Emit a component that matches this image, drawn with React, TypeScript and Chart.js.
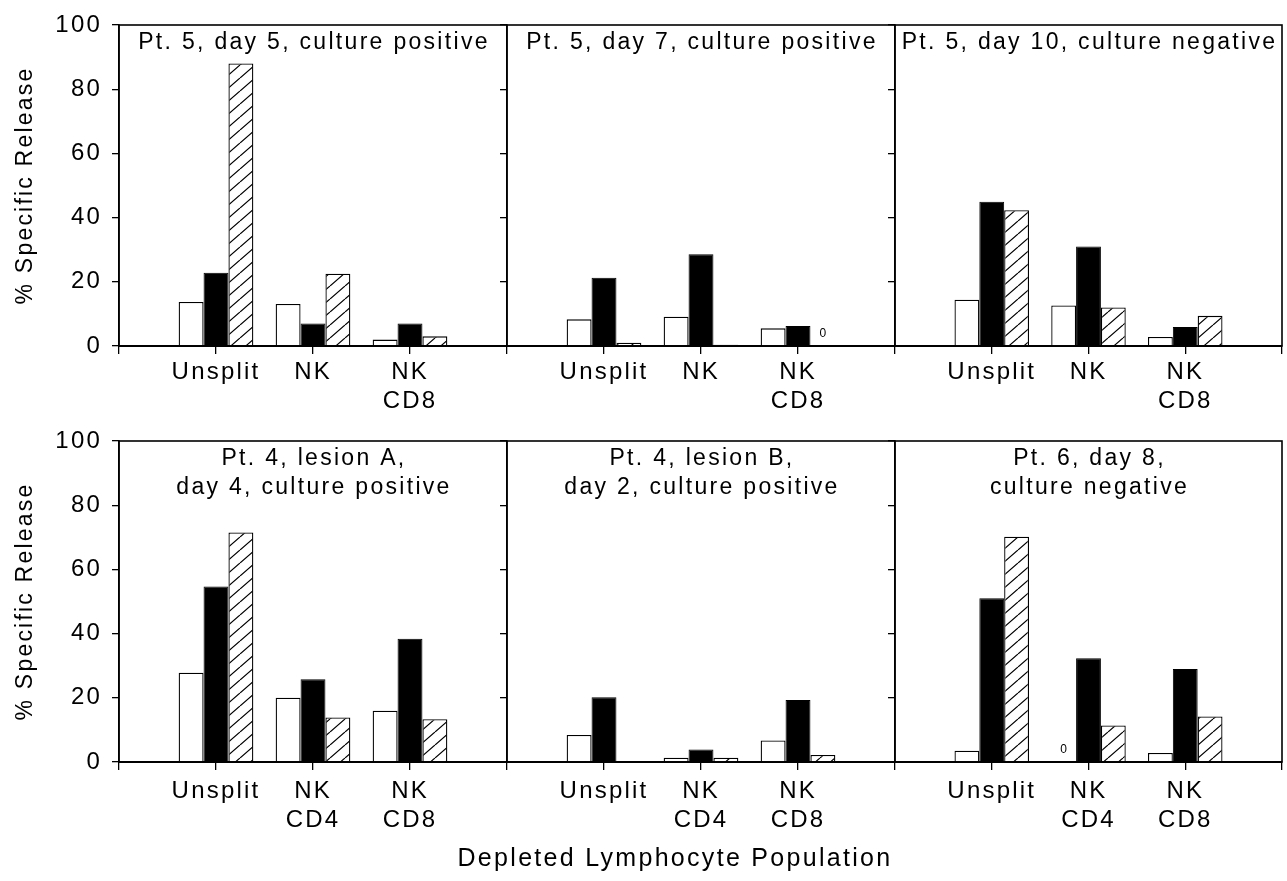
import React, { useEffect, useRef } from 'react';
import { Chart, registerables } from 'chart.js';

Chart.register(...registerables);

const FONT = '"Liberation Sans", Arial, Helvetica, sans-serif';
const SPACING = '2.2px';

// ---- categories / tick labels ----
const topCategories: (string | string[])[] = ['', 'Unsplit', 'NK', ['NK', 'CD8'], ''];
const bottomCategories: (string | string[])[] = ['', 'Unsplit', ['NK', 'CD4'], ['NK', 'CD8'], ''];
const yTickStep = 20;
const yMin = 0;
const yMax = 100;
const yAxisTitle = '% Specific Release';
const xAxisTitle = 'Depleted Lymphocyte Population';

// ---- panel titles ----
const title1 = ['Pt. 5, day 5, culture positive'];
const title2 = ['Pt. 5, day 7, culture positive'];
const title3 = ['Pt. 5, day 10, culture negative'];
const title4 = ['Pt. 4, lesion A,', 'day 4, culture positive'];
const title5 = ['Pt. 4, lesion B,', 'day 2, culture positive'];
const title6 = ['Pt. 6, day 8,', 'culture negative'];

// ---- series values (per category: Unsplit, NK/NK CD4, NK CD8) ----
const p1White = [13.7, 13.1, 2.0];
const p1Black = [22.8, 7.0, 7.0];
const p1Hatched = [88.0, 22.5, 3.0];

const p2White = [8.3, 9.1, 5.5];
const p2Black = [21.3, 28.6, 6.2];
const p2Hatched = [1.0, 0.4, 0];

const p3White = [14.4, 12.6, 2.8];
const p3Black = [44.9, 31.0, 5.9];
const p3Hatched = [42.3, 12.0, 9.4];

const p4White = [27.8, 20.0, 16.0];
const p4Black = [54.7, 25.8, 38.4];
const p4Hatched = [71.5, 13.9, 13.3];

const p5White = [8.4, 1.35, 6.7];
const p5Black = [20.2, 3.9, 19.3];
const p5Hatched = [0.3, 1.35, 2.2];

const p6White = [3.5, 0, 2.8];
const p6Black = [51.0, 32.3, 29.0];
const p6Hatched = [70.2, 11.4, 14.2];

type Panel = {
  labels: (string | string[])[];
  white: number[];
  black: number[];
  hatched: number[];
  title: string[];
  row: number;
  col: number;
};

const panels: Panel[] = [
  { labels: topCategories, white: p1White, black: p1Black, hatched: p1Hatched, title: title1, row: 0, col: 0 },
  { labels: topCategories, white: p2White, black: p2Black, hatched: p2Hatched, title: title2, row: 0, col: 1 },
  { labels: topCategories, white: p3White, black: p3Black, hatched: p3Hatched, title: title3, row: 0, col: 2 },
  { labels: bottomCategories, white: p4White, black: p4Black, hatched: p4Hatched, title: title4, row: 1, col: 0 },
  { labels: bottomCategories, white: p5White, black: p5Black, hatched: p5Hatched, title: title5, row: 1, col: 1 },
  { labels: bottomCategories, white: p6White, black: p6Black, hatched: p6Hatched, title: title6, row: 1, col: 2 },
];

// layout geometry (canvas boxes)
const rowBoxes = [
  { top: 0, height: 420, padTop: 25, xHeight: 74, tickPad: 4 },
  { top: 420, height: 461, padTop: 21, xHeight: 119, tickPad: 7 },
];
const colBoxes = [
  { left: 0, width: 507, yWidth: 119, padRight: 0 },
  { left: 400, width: 495, yWidth: 107, padRight: 0 },
  { left: 883, width: 404, yWidth: 12, padRight: 5 },
];
// x axis title centre in page coordinates
const xTitleCenter = { x: 675, y: 859 };

const pad = (v: number[]) => [null, ...v, null];

function makeHatch(): CanvasPattern | string {
  const w = 15;
  const h = 13;
  const c = document.createElement('canvas');
  c.width = w;
  c.height = h;
  const g = c.getContext('2d');
  if (!g) return '#fff';
  g.fillStyle = '#fff';
  g.fillRect(0, 0, w, h);
  g.strokeStyle = '#000';
  g.lineWidth = 1.2;
  g.beginPath();
  g.moveTo(0, h);
  g.lineTo(w, 0);
  g.moveTo(-w, h);
  g.lineTo(0, 0);
  g.moveTo(w, h);
  g.lineTo(2 * w, 0);
  g.stroke();
  return g.createPattern(c, 'repeat') || '#fff';
}

const spacingPlugin = {
  id: 'spacing',
  beforeDraw(chart: any) {
    chart.ctx.letterSpacing = SPACING;
  },
};

const framePlugin = {
  id: 'frame',
  afterDraw(chart: any) {
    const { ctx, chartArea } = chart;
    ctx.save();
    ctx.strokeStyle = '#000';
    ctx.lineWidth = 1.6;
    ctx.strokeRect(chartArea.left, chartArea.top, chartArea.right - chartArea.left, chartArea.bottom - chartArea.top);
    ctx.restore();
  },
};

const zeroLabelPlugin = {
  id: 'zeroLabel',
  afterDatasetsDraw(chart: any) {
    const { ctx } = chart;
    const yScale = chart.scales.y;
    const base = yScale.getPixelForValue(0);
    ctx.save();
    ctx.letterSpacing = '0px';
    ctx.font = `12px ${FONT}`;
    ctx.fillStyle = '#000';
    ctx.textAlign = 'center';
    ctx.textBaseline = 'middle';
    chart.data.datasets.forEach((ds: any, i: number) => {
      const meta = chart.getDatasetMeta(i);
      meta.data.forEach((el: any, j: number) => {
        if (ds.data[j] === 0) ctx.fillText('0', el.x, base - 12);
      });
    });
    ctx.restore();
  },
};

const panelTitlePlugin = {
  id: 'panelTitle',
  afterDraw(chart: any, _args: any, opts: any) {
    const { ctx, chartArea } = chart;
    const lines: string[] = opts.lines || [];
    ctx.save();
    ctx.letterSpacing = '2.3px';
    ctx.font = `23px ${FONT}`;
    ctx.fillStyle = '#000';
    ctx.textAlign = 'center';
    ctx.textBaseline = 'middle';
    const cx = (chartArea.left + chartArea.right) / 2 + 1;
    lines.forEach((l, i) => ctx.fillText(l, cx, chartArea.top + 18 + i * 28.5));
    if (opts.xTitle) {
      ctx.font = `25px ${FONT}`;
      ctx.letterSpacing = '2.3px';
      ctx.fillText(opts.xTitle.text, opts.xTitle.x, opts.xTitle.y);
    }
    ctx.restore();
  },
};

function PanelChart({ panel }: { panel: Panel }) {
  const ref = useRef<HTMLCanvasElement | null>(null);
  const rb = rowBoxes[panel.row];
  const cb = colBoxes[panel.col];

  useEffect(() => {
    if (!ref.current) return;
    const hatch = makeHatch();
    const showY = panel.col === 0;
    const showXTitle = panel.row === 1 && panel.col === 1;
    const barOpts = { categoryPercentage: 0.77, barPercentage: 1.0 };
    const chart = new Chart(ref.current, {
      type: 'bar',
      data: {
        labels: panel.labels as any,
        datasets: [
          { label: 'white', data: pad(panel.white) as any, backgroundColor: '#fff', borderColor: '#000', borderWidth: 1.3, ...barOpts },
          { label: 'black', data: pad(panel.black) as any, backgroundColor: '#000', borderColor: '#000', borderWidth: 1, ...barOpts },
          { label: 'hatched', data: pad(panel.hatched) as any, backgroundColor: hatch as any, borderColor: '#000', borderWidth: 1.3, ...barOpts },
        ],
      },
      options: {
        animation: false,
        responsive: false,
        maintainAspectRatio: false,
        devicePixelRatio: 1,
        layout: { padding: { top: rb.padTop, right: cb.padRight, left: 0, bottom: 0 } },
        plugins: {
          legend: { display: false },
          tooltip: { enabled: false },
          title: { display: false },
          panelTitle: {
            lines: panel.title,
            xTitle: showXTitle
              ? { text: xAxisTitle, x: xTitleCenter.x - cb.left, y: xTitleCenter.y - rb.top }
              : null,
          },
        } as any,
        scales: {
          x: {
            type: 'category',
            offset: false,
            grid: { offset: false, drawOnChartArea: false, drawTicks: true, tickLength: 8, color: '#000', lineWidth: 1.3 },
            border: { display: true, color: '#000', width: 2 },
            ticks: {
              color: '#000',
              font: { family: FONT, size: 24, lineHeight: 1.2 },
              padding: rb.tickPad,
              maxRotation: 0,
              minRotation: 0,
              autoSkip: false,
            },
            afterFit: (s: any) => {
              s.height = rb.xHeight;
              s.paddingLeft = 0;
              s.paddingRight = 0;
            },
          },
          y: {
            min: yMin,
            max: yMax,
            grid: { drawOnChartArea: false, drawTicks: true, tickLength: 7, color: '#000', lineWidth: 1.3 },
            border: { display: true, color: '#000', width: 1.6 },
            ticks: {
              display: showY,
              stepSize: yTickStep,
              color: '#000',
              font: { family: FONT, size: 24 },
              padding: 10,
            },
            title: {
              display: showY,
              text: yAxisTitle,
              color: '#000',
              font: { family: FONT, size: 23 },
              padding: { top: 12, bottom: 0 },
            },
            afterFit: (s: any) => {
              s.width = cb.yWidth;
              s.paddingTop = 0;
              s.paddingBottom = 0;
            },
          },
        } as any,
      },
      plugins: [spacingPlugin, zeroLabelPlugin, framePlugin, panelTitlePlugin],
    });
    return () => chart.destroy();
  }, [panel]);

  return (
    <canvas
      ref={ref}
      width={cb.width}
      height={rb.height}
      style={{ position: 'absolute', left: cb.left, top: rb.top, width: cb.width, height: rb.height }}
    />
  );
}

export default function App() {
  return (
    <div style={{ position: 'absolute', left: 0, top: 0, width: 1287, height: 881, background: '#fff', overflow: 'hidden' }}>
      {panels.map((p, i) => (
        <PanelChart key={i} panel={p} />
      ))}
    </div>
  );
}
